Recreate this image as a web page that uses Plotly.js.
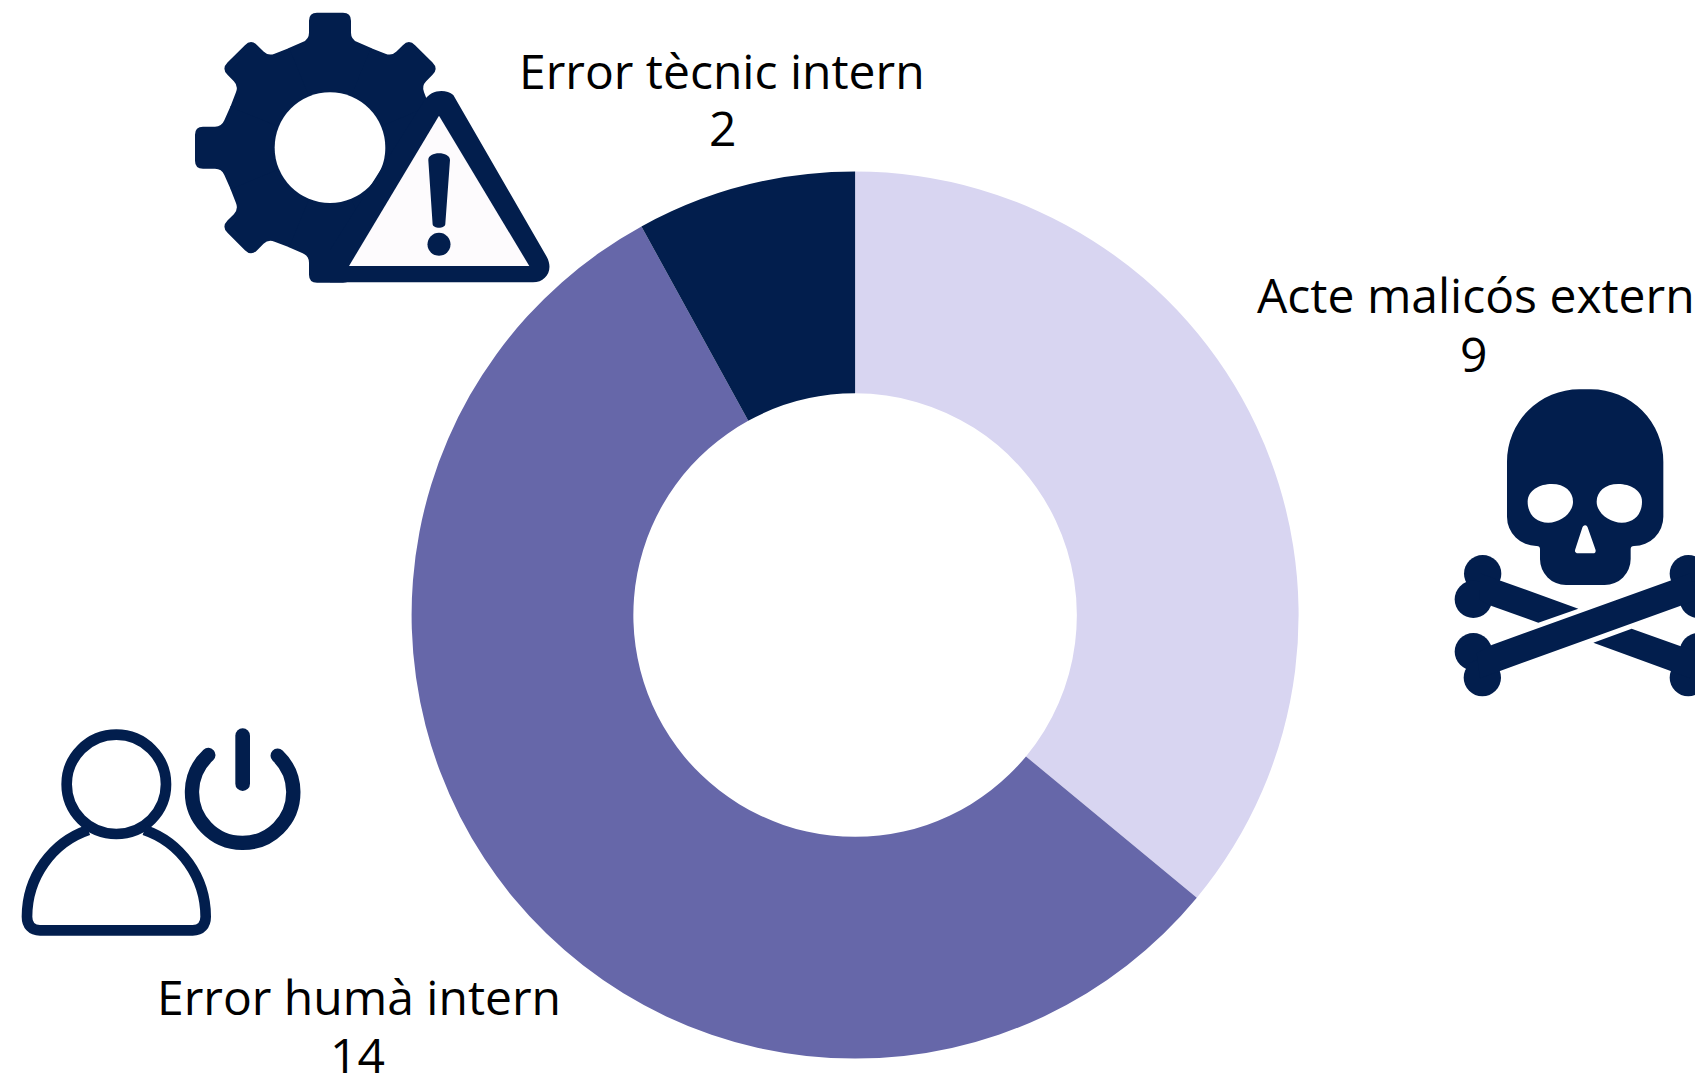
<!DOCTYPE html>
<html>
<head>
<meta charset="utf-8">
<script src="https://cdn.plot.ly/plotly-3.0.1.min.js"></script>
<style>html,body{margin:0;padding:0;background:#fff;overflow:hidden}#chart{width:1695px;height:1077px}</style>
</head>
<body>
<div id="chart"></div>
<script>
const categories = ["Acte malicós extern", "Error humà intern", "Error tècnic intern"];
const values = [9, 14, 2];
const sliceColors = ["#d8d5f1", "#6667a9", "#021e4d"];
const navy = "#021e4d";

const W = 1695, H = 1077;
const cx = 855.1, cy = 615.1, R = 443.5;

function tooth(a, top, c) {
  return `<path transform="rotate(${a})" d="M-125,-298 L-82,-317 Q-63,-325 -63,-345 L-63,${-top+c} Q-63,${-top} ${-63+c},${-top} L${63-c},${-top} Q63,${-top} 63,${-top+c} L63,-345 Q63,-325 82,-317 L125,-298 L0,0 Z"/>`;
}
let teeth = "";
for (let i = 0; i < 8; i++) teeth += i % 2 ? tooth(i * 45, 398, 26) : tooth(i * 45, 405, 24);

const gear = `<g transform="translate(330,147.67) scale(0.33333)" fill="${navy}"><circle r="305"/>${teeth}<circle r="166" fill="#fff"/></g>`;
const warn = `<g>
<path fill="${navy}" d="M453.3,95 L546.7,256.7 C554,270 546,282.3 533,282.3 L330,282.3 L330,250 L424,101 C431,89 446,89 453.3,95 Z"/>
<path fill="#fdfbfd" d="M439,115.7 L529.3,266 L349,266 Z"/>
<path fill="${navy}" d="M428.3,160 C428,151 450,151 450,160 L445.3,224 C445,229 433,229 432.6,224 Z"/>
<circle cx="439" cy="244.3" r="11.5" fill="${navy}"/></g>`;

const skull = `<g transform="translate(1430,370) scale(0.33333)" fill="${navy}">
<path d="M231,275 A217,217 0 0 1 448,58 L483,58 A217,217 0 0 1 700,275 L700,440 A88,88 0 0 1 612,528 Q602,528 602,537 L602,567 A78,78 0 0 1 524,645 L408,645 A78,78 0 0 1 330,567 L330,537 Q330,528 320,528 A88,88 0 0 1 231,440 Z"/>
<path fill="#fff" d="M293,395 C293,360 330,342 365,342 C405,342 429,365 429,395 C429,430 390,458 355,458 C315,458 293,430 293,395 Z"/>
<path fill="#fff" d="M636,395 C636,360 600,342 565,342 C525,342 500,365 500,395 C500,430 540,458 575,458 C615,458 636,430 636,395 Z"/>
<path fill="#fff" stroke="#fff" stroke-width="16" stroke-linejoin="round" d="M465,474 L443,542 L489,542 Z"/>
<circle cx="158" cy="611" r="56"/><circle cx="130" cy="688" r="56"/>
<circle cx="130" cy="845" r="56"/><circle cx="157" cy="923" r="56"/>
<circle cx="775" cy="611" r="56"/><circle cx="805" cy="688" r="56"/>
<circle cx="805" cy="845" r="56"/><circle cx="775" cy="923" r="56"/>
<path d="M150,690 L185,708 L325,758 L445,716 L212,632 L150,610 Z"/>
<path d="M140,850 L185,825 L720,632 L780,610 L800,690 L750,708 L212,902 L150,925 Z"/>
<path d="M605,776 L748,827 L800,845 L780,925 L720,902 L490,818 Z"/>
</g>`;

const person = `<g transform="translate(0,710) scale(0.33333)" fill="none" stroke="${navy}">
<circle cx="349" cy="223" r="149" stroke-width="32"/>
<path stroke-width="32" d="M265,360 A268,275 0 0 0 81,620 C81,645 95,661 120,661 L578,661 C603,661 617,645 617,620 A268,275 0 0 0 433,360"/>
<path stroke-width="43" stroke-linecap="round" d="M625,135 A152,152 0 1 0 833,137"/>
<path stroke-width="44" stroke-linecap="round" d="M728,77 L728,221"/>
</g>`;

const svg = `<svg xmlns="http://www.w3.org/2000/svg" width="${W}" height="${H}" viewBox="0 0 ${W} ${H}">${gear}${warn}${skull}${person}</svg>`;

// Label centres in page pixels: [category x, category y, value x, value y]
const labelCentres = [[1475.5, 294.5, 1473.5, 353.5], [358.5, 996, 357.5, 1054], [721.5, 70.5, 722, 127]];
const annotations = [];
categories.forEach((c, i) => {
  const [x1, y1, x2, y2] = labelCentres[i];
  [[c, x1, y1], [String(values[i]), x2, y2]].forEach(([t, x, y]) => annotations.push({
    text: t, xref: "paper", yref: "paper", x: x / W, y: 1 - y / H,
    xanchor: "center", yanchor: "middle", showarrow: false,
    font: {family: "Open Sans", size: 48, color: "#000"}
  }));
});

Plotly.newPlot("chart", [{
  type: "pie",
  labels: categories,
  values: values,
  hole: 0.5,
  sort: false,
  direction: "clockwise",
  rotation: 0,
  textinfo: "none",
  marker: {colors: sliceColors, line: {width: 0}},
  domain: {x: [(cx - R) / W, (cx + R) / W], y: [1 - (cy + R) / H, 1 - (cy - R) / H]},
  showlegend: false
}], {
  width: W, height: H,
  margin: {l: 0, r: 0, t: 0, b: 0},
  paper_bgcolor: "#fff",
  showlegend: false,
  annotations: annotations,
  images: [{
    source: "data:image/svg+xml;charset=utf-8," + encodeURIComponent(svg),
    xref: "paper", yref: "paper", x: 0, y: 1, sizex: 1, sizey: 1,
    xanchor: "left", yanchor: "top", sizing: "stretch", layer: "above"
  }]
}, {displayModeBar: false, staticPlot: true});
</script>
</body>
</html>
